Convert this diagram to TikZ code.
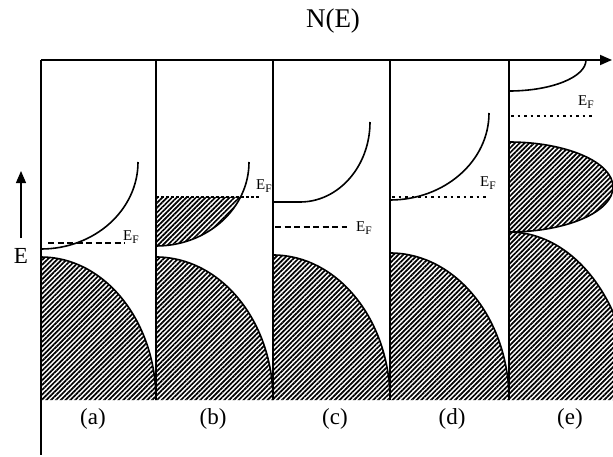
\documentclass[tikz,border=0pt]{standalone}
\usepackage{fontspec}
\setmainfont{Liberation Serif}
\usetikzlibrary{arrows.meta,patterns.meta}

\newcommand{\fermi}{E\raisebox{-2.8pt}{\fontsize{11.5}{11.5}\selectfont F}}

\begin{document}
\begin{tikzpicture}[
		x=1pt, y=1pt,
		line width=1.4pt,
		hatch/.style={pattern={Lines[angle=45,distance=3.4pt,line width=1.7pt]}},
		band/.style={draw, line width=1.6pt},
		fdash/.style={line width=1.5pt, dash pattern=on 6pt off 3.5pt},
		fdot/.style={line width=1.5pt, dash pattern=on 2.5pt off 4pt},
		ef/.style={font=\fontsize{15}{15}\selectfont, inner sep=0pt},
		lbl/.style={font=\fontsize{23}{23}\selectfont, inner sep=0pt},
		arrow/.style={-{Triangle[length=12pt, width=10pt]}}
		]
		
		\useasboundingbox (0,0) rectangle (613,456);
		\clip (0,0) rectangle (613,456);
		
		% hatched (filled) bands
		\fill[hatch] (41,56) -- (41,199) arc[start angle=90, end angle=0, x radius=115, y radius=143] -- cycle;
		\fill[hatch] (156,56) -- (156,199) arc[start angle=90, end angle=0, x radius=117, y radius=143] -- cycle;
		\fill[hatch] (156,259) -- (156,210) arc[start angle=270, end angle=335.4, x radius=93, y radius=84] -- cycle;
		\fill[hatch] (273,56) -- (273,201) arc[start angle=90, end angle=0, x radius=117, y radius=145] -- cycle;
		\fill[hatch] (390,56) -- (390,203) arc[start angle=90, end angle=0, x radius=119, y radius=147] -- cycle;
		\fill[hatch] (509,314) arc[start angle=90, end angle=-90, x radius=104, y radius=45] -- cycle;
		\fill[hatch] (509,56) -- (509,224) arc[start angle=90, end angle=0, x radius=122, y radius=168] -- cycle;
		
		% band edges
		\draw[band] (41,199) arc[start angle=90, end angle=0, x radius=115, y radius=143];
		\draw[band] (156,199) arc[start angle=90, end angle=0, x radius=117, y radius=143];
		\draw[band] (273,201) arc[start angle=90, end angle=0, x radius=117, y radius=145];
		\draw[band] (390,203) arc[start angle=90, end angle=0, x radius=119, y radius=147];
		\draw[band] (509,314) arc[start angle=90, end angle=-90, x radius=104, y radius=45];
		\draw[band] (509,224) arc[start angle=90, end angle=0, x radius=122, y radius=168];
		
		\draw[band] (41,207) arc[start angle=270, end angle=360, x radius=97, y radius=87];
		\draw[band] (156,210) arc[start angle=270, end angle=360, x radius=93, y radius=84];
		\draw[band] (273,254) -- (300,254) arc[start angle=270, end angle=360, x radius=70, y radius=80];
		\draw[band] (390,256) arc[start angle=270, end angle=360, x radius=99, y radius=87];
		\draw[band] (509,365) arc[start angle=270, end angle=360, x radius=77, y radius=31];
		
		% axes and panel borders
		\draw[line width=1.8pt, arrow] (41,396) -- (612,396);
		\draw (41,396) -- (41,1);
		\foreach \x in {156,273,390,509}
			\draw (\x,396) -- (\x,56);
		
		\node (NE) at (333,435) {\fontsize{27}{27}\selectfont N(E)};
		\coordinate (Elow) at (21,218);
		\coordinate (Ehigh) at (21,285);
		\draw[line width=1.2pt, arrow] (Elow) -- (Ehigh);
		\node[lbl] (E) at (21,200) {E};
		
		% Fermi levels
		\draw[fdash] (48,213) -- (125,213);
		\node[ef] (efa) at (131,219) {\fermi};
		\draw[line width=1.5pt, dash pattern=on 3pt off 2pt] (156,259) -- (260,259);
		\node[ef] (efb) at (264,270) {\fermi};
		\draw[fdash] (275,229) -- (347,229);
		\node[ef] (efc) at (364,228) {\fermi};
		\draw[fdot] (392,259) -- (487,259);
		\node[ef] (efd) at (488,273) {\fermi};
		\draw[fdot] (511,340) -- (593,340);
		\node[ef] (efe) at (586,354) {\fermi};
		
		% panel labels
		\node[lbl] (pa) at (93,37) {(a)};
		\node[lbl] (pb) at (213,37) {(b)};
		\node[lbl] (pc) at (335,37) {(c)};
		\node[lbl] (pd) at (452,37) {(d)};
		\node[lbl] (pe) at (570,37) {(e)};
	\end{tikzpicture}
\end{document}
